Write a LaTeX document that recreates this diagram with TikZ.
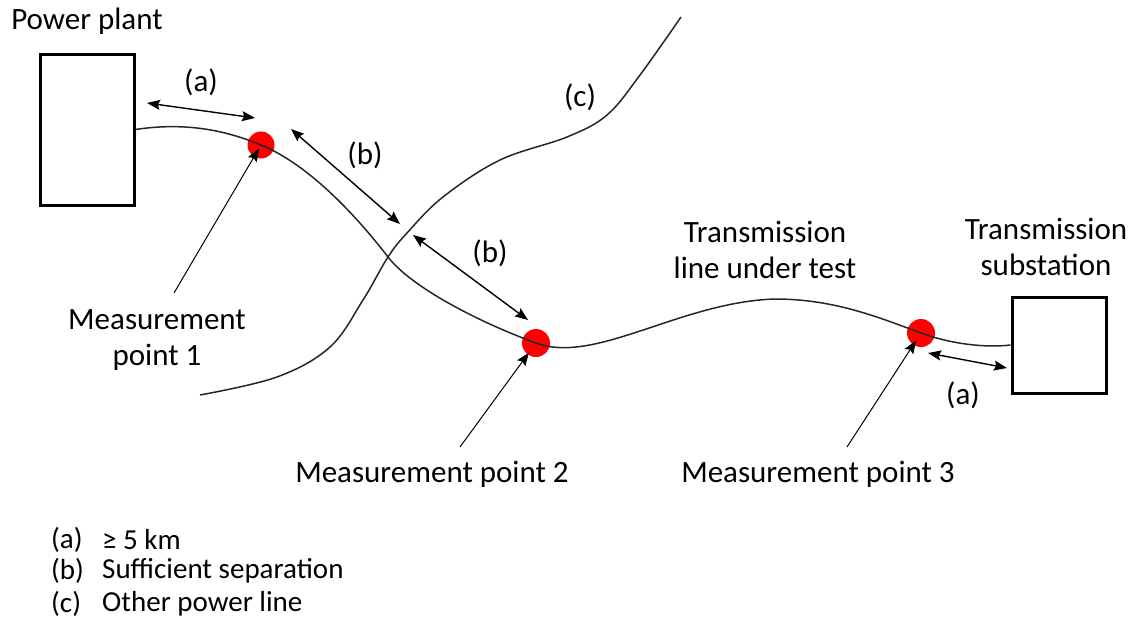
\documentclass[tikz,border=0pt]{standalone}
\usepackage{fontspec}
\setmainfont{Carlito}
\usetikzlibrary{arrows.meta}
\begin{document}
\begin{tikzpicture}[x=1pt,y=-1pt,
  box/.style={draw=black,line width=3pt,fill=white,inner sep=0pt},
  reddot/.style={circle,fill=red,inner sep=0pt,minimum size=27pt},
  wire/.style={line width=1.5pt,black!85},
  dbl/.style={line width=1.4pt,{Stealth[length=13pt,width=10pt,inset=2pt]}-{Stealth[length=13pt,width=10pt,inset=2pt]}},
  ptr/.style={line width=1pt,-{Stealth[length=13pt,width=10pt,inset=2pt]}},
  lbl/.style={font=\fontsize{31}{36}\selectfont,inner sep=0pt,align=center},
  leg/.style={font=\fontsize{29}{33}\selectfont,inner sep=0pt,anchor=west}
]
\useasboundingbox (0,0) rectangle (1141,621);
% boxes
\node[box,minimum width=94pt,minimum height=151pt] (plant) at (87,129.5) {};
\node[box,minimum width=94pt,minimum height=96pt] (sub) at (1059,345) {};
% dots
\node[reddot] (d1) at (261,145) {};
\node[reddot,minimum size=28pt] (d2) at (536,343) {};
\node[reddot,minimum size=28pt] (d3) at (921,333) {};
% transmission line
\coordinate (x1) at (388,257);
\coordinate (pk) at (775,299);
\draw[wire] (plant.east) .. controls (185,122) and (225,130) .. (d1.center)
  .. controls (310,165) and (358,218) .. (x1)
  .. controls (412,288) and (481,323) .. (d2.center)
  .. controls (595,365) and (680,302) .. (pk)
  .. controls (835,299) and (880,318) .. (d3.center)
  .. controls (951,344) and (985,348) .. (sub.west);
% other power line (c)
\coordinate (c0) at (200,395);
\coordinate (c1) at (681,17);
\draw[wire] plot[smooth,tension=0.6] coordinates {(c0) (277,377) (330,347) (363,300) (388,257) (407,233) (443,197) (500,160) (567,137) (607,115) (640,75) (c1)};
% distance arrows
\coordinate (a1) at (147,103); \coordinate (a2) at (255,118);
\draw[dbl] (a1) -- (a2);
\coordinate (b1) at (291,129); \coordinate (b2) at (400,224);
\draw[dbl] (b1) -- (b2);
\coordinate (b3) at (413,235); \coordinate (b4) at (528,320);
\draw[dbl] (b3) -- (b4);
\coordinate (a3) at (928,353); \coordinate (a4) at (1007,368);
\draw[dbl] (a3) -- (a4);
% pointer arrows
\coordinate (p1) at (174,293);
\coordinate (p2) at (460,447);
\coordinate (p3) at (847,447);
\draw[ptr,shorten >=4pt] (p1) -- (d1.center);
\draw[ptr,shorten >=12pt] (p2) -- (d2.center);
\draw[ptr,shorten >=9pt] (p3) -- (d3.center);
% labels
\node[lbl] (tplant) at (87,21) {Power plant};
\node[lbl] (tmp1) at (157,340) {Measurement\\point 1};
\node[lbl] (ttl) at (765,250) {Transmission\\line under test};
\node[lbl] (tsub) at (1046,247) {Transmission\\substation};
\node[lbl] (tmp2) at (432,474) {Measurement point 2};
\node[lbl] (tmp3) at (818,474) {Measurement point 3};
\node[lbl] (la1) at (201,82) {(a)};
\node[lbl] (lb1) at (365,155) {(b)};
\node[lbl] (lb2) at (490,253) {(b)};
\node[lbl] (lc) at (580,97) {(c)};
\node[lbl] (la2) at (963,395) {(a)};
% legend
\node[leg] (ka) at (51,540) {(a)};
\node[leg] (va) at (102,540) {≥ 5 km};
\node[leg] (kb) at (51,571) {(b)};
\node[leg] (vb) at (102,571) {Sufficient separation};
\node[leg] (kc) at (51,604) {(c)};
\node[leg] (vc) at (102,604) {Other power line};
\end{tikzpicture}
\end{document}
